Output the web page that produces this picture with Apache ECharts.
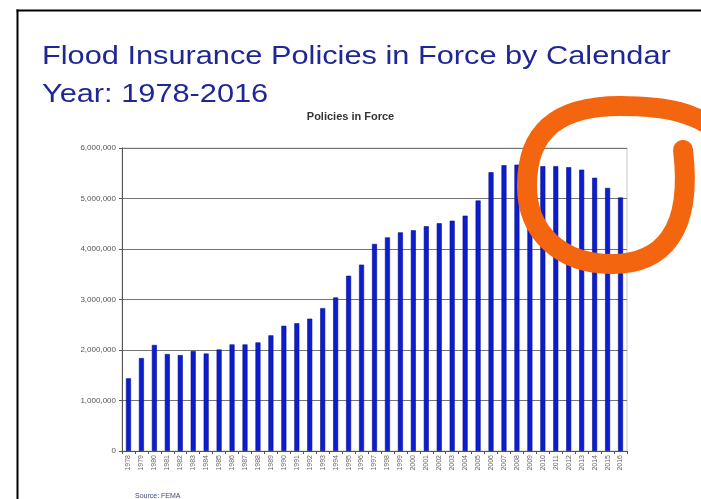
<!DOCTYPE html>
<html>
<head>
<meta charset="utf-8">
<script src="https://cdn.jsdelivr.net/npm/echarts@6/dist/echarts.min.js"></script>
<style>
html,body{margin:0;padding:0;background:#fff;}
#chart{width:701px;height:499px;}
</style>
</head>
<body>
<div id="chart"></div>
<script>
const years = ['1978','1979','1980','1981','1982','1983','1984','1985','1986','1987','1988','1989','1990','1991','1992','1993','1994','1995','1996','1997','1998','1999','2000','2001','2002','2003','2004','2005','2006','2007','2008','2009','2010','2011','2012','2013','2014','2015','2016'];
const policies = [1440000,1840000,2100000,1920000,1900000,1980000,1930000,2010000,2110000,2110000,2150000,2290000,2480000,2530000,2620000,2830000,3040000,3470000,3690000,4100000,4230000,4330000,4370000,4450000,4510000,4560000,4660000,4960000,5520000,5660000,5670000,5700000,5640000,5640000,5620000,5570000,5410000,5210000,5020000];
const titleLines = ['Flood Insurance Policies in Force by Calendar', 'Year: 1978-2016'];
const chartTitle = 'Policies in Force';
const sourceText = 'Source: FEMA';

const strokeStyle = {fill: null, stroke: '#f4650f', lineWidth: 20, lineCap: 'round', lineJoin: 'round'};
function curve(x1, y1, c1x, c1y, c2x, c2y, x2, y2) {
  return {type: 'bezierCurve', shape: {x1: x1, y1: y1, cpx1: c1x, cpy1: c1y, cpx2: c2x, cpy2: c2y, x2: x2, y2: y2}, style: strokeStyle, z: 20};
}

const chart = echarts.init(document.getElementById('chart'), null, {renderer: 'canvas'});
chart.setOption({
  animation: false,
  backgroundColor: '#ffffff',
  grid: {left: 122, right: 74, top: 148, bottom: 48, show: true, borderColor: '#c8c8c8', borderWidth: 1, backgroundColor: 'transparent'},
  xAxis: {
    type: 'category',
    data: years,
    boundaryGap: true,
    axisLine: {show: true, lineStyle: {color: '#555', width: 1}},
    axisTick: {show: true, length: 3, inside: false, alignWithLabel: false, lineStyle: {color: '#555'}},
    axisLabel: {rotate: 90, interval: 0, fontSize: 7, color: '#666', fontFamily: 'Liberation Sans', margin: 4}
  },
  yAxis: {
    type: 'value',
    min: 0, max: 6000000, interval: 1000000,
    axisLine: {show: true, lineStyle: {color: '#555', width: 1}},
    axisTick: {show: true, length: 3, lineStyle: {color: '#555'}},
    axisLabel: {fontSize: 8, color: '#555', fontFamily: 'Liberation Sans', margin: 6,
      formatter: v => v.toLocaleString('en-US')},
    splitLine: {show: true, lineStyle: {color: '#747474', width: 1}}
  },
  series: [{
    type: 'bar',
    data: policies,
    barWidth: 5,
    itemStyle: {color: '#0c1ccf', borderColor: '#08128a', borderWidth: 0.6}
  }],
  graphic: [
    {type: 'rect', shape: {x: 16.5, y: 9.5, width: 700, height: 2}, style: {fill: '#000'}, z: 10},
    {type: 'rect', shape: {x: 16.5, y: 9.5, width: 2, height: 500}, style: {fill: '#000'}, z: 10},
    {type: 'text', x: 42, y: 43.5, scaleX: 1.16, style: {text: titleLines[0], fontFamily: 'Liberation Sans', fontSize: 26.5, fill: '#1f2795', textBaseline: 'alphabetic'}, z: 10},
    {type: 'text', x: 42, y: 81.5, scaleX: 1.16, style: {text: titleLines[1], fontFamily: 'Liberation Sans', fontSize: 26.5, fill: '#1f2795', textBaseline: 'alphabetic'}, z: 10},
    {type: 'text', x: 350.5, y: 117, style: {text: chartTitle, fontFamily: 'Liberation Sans', fontWeight: 'bold', fontSize: 11, fill: '#333', align: 'center', verticalAlign: 'middle'}, z: 10},
    {type: 'text', x: 135, y: 496, style: {text: sourceText, fontFamily: 'Liberation Sans', fontSize: 7, fill: '#3a4a8a', verticalAlign: 'middle'}, z: 10},
    curve(683, 150, 693, 232, 662, 264, 612, 264),
    curve(612, 264, 560, 264, 527, 232, 527, 186),
    curve(527, 186, 527, 128, 562, 106, 620, 106),
    curve(620, 106, 665, 106, 700, 112, 725, 138)
  ]
});
</script>
</body>
</html>
